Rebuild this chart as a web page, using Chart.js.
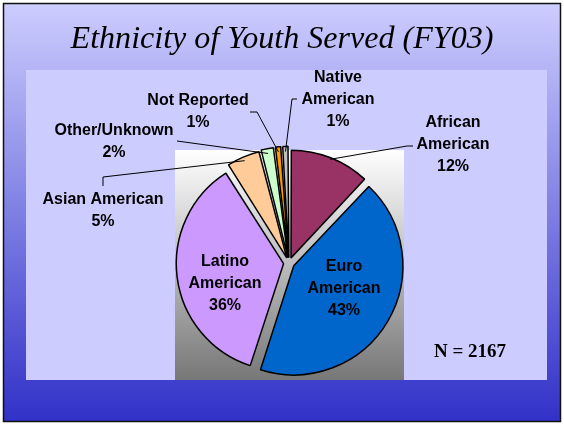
<!DOCTYPE html>
<html>
<head>
<meta charset="utf-8">
<script src="https://cdn.jsdelivr.net/npm/chart.js@4"></script>
<style>
  html, body { margin: 0; padding: 0; background: #fff; }
  #wrap { position: relative; width: 564px; height: 424px; }
</style>
</head>
<body>
<div id="wrap"><canvas id="ethnicityChart" width="564" height="424"></canvas></div>
<script>
const categories = ['African American', 'Euro American', 'Latino American', 'Asian American', 'Other/Unknown', 'Not Reported', 'Native American'];
const percents = [12, 43, 36, 5, 2, 1, 1];
const sliceColors = ['#993366', '#0066CC', '#CC99FF', '#FFCC99', '#CCFFCC', '#FF9900', '#C0C0C0'];
const totalServed = 2167;
const chartTitle = 'Ethnicity of Youth Served (FY03)';

// where each label's text goes, and the elbow of its leader line
const labelLayout = [
  { x: 453, y: 123, wrap: true,  leader: [[413, 146], [407, 146]] },
  { x: 344, y: 267, wrap: true },
  { x: 225, y: 262, wrap: true },
  { x: 103, y: 200, wrap: false, leader: [[103, 186], [103, 177]] },
  { x: 114, y: 131, wrap: false, leader: [[177, 141]] },
  { x: 198, y: 101, wrap: false, leader: [[250, 112], [257, 112]] },
  { x: 338, y: 78,  wrap: true,  leader: [[297, 99], [292, 99]] }
];

const slidePlugin = {
  id: 'slide',
  beforeDraw(chart) {
    const ctx = chart.ctx;
    ctx.save();
    // slide background
    var g = ctx.createLinearGradient(0, 0, 0, 424);
    g.addColorStop(0, '#CECEFF');
    g.addColorStop(1, '#3030C8');
    ctx.fillStyle = g;
    ctx.fillRect(3, 3, 558, 419);
    ctx.strokeStyle = '#111';
    ctx.lineWidth = 1.5;
    ctx.strokeRect(3.5, 3.5, 557, 418);

    // title
    ctx.fillStyle = '#000';
    var size = 30;
    ctx.font = 'italic ' + size + 'px "Liberation Serif"';
    size = size * 423 / ctx.measureText(chartTitle).width;
    ctx.font = 'italic ' + size.toFixed(1) + 'px "Liberation Serif"';
    ctx.textAlign = 'center';
    ctx.textBaseline = 'middle';
    ctx.fillText(chartTitle, 282, 40);

    // chart area + plot area
    ctx.fillStyle = '#CCCCFF';
    ctx.fillRect(26, 70, 521, 310);
    var pg = ctx.createLinearGradient(0, 150, 0, 380);
    pg.addColorStop(0, '#FFFFFF');
    pg.addColorStop(1, '#777777');
    ctx.fillStyle = pg;
    ctx.fillRect(175, 150, 229, 230);
    ctx.restore();
  },
  afterDatasetsDraw(chart) {
    const ctx = chart.ctx;
    const arcs = chart.getDatasetMeta(0).data;
    ctx.save();
    ctx.font = 'bold 16px "Liberation Sans"';
    ctx.textAlign = 'center';
    ctx.textBaseline = 'middle';
    arcs.forEach(function(arc, i) {
      var p = arc.getProps(['x', 'y', 'startAngle', 'endAngle', 'outerRadius'], true);
      var mid = (p.startAngle + p.endAngle) / 2;
      var shift = (arc.options.offset || 0) / 4;
      var ax = p.x + Math.cos(mid) * (shift + p.outerRadius);
      var ay = p.y + Math.sin(mid) * (shift + p.outerRadius);
      var lay = labelLayout[i];
      if (lay.leader) {
        ctx.strokeStyle = '#000';
        ctx.lineWidth = 1;
        ctx.beginPath();
        ctx.moveTo(lay.leader[0][0], lay.leader[0][1]);
        for (var k = 1; k < lay.leader.length; k++) ctx.lineTo(lay.leader[k][0], lay.leader[k][1]);
        ctx.lineTo(ax, ay);
        ctx.stroke();
      }
      var lines = lay.wrap ? categories[i].split(' ') : [categories[i]];
      lines.push(percents[i] + '%');
      ctx.fillStyle = '#000';
      lines.forEach(function(t, j) {
        ctx.fillText(t, lay.x, lay.y + j * 22);
      });
    });

    ctx.font = 'bold 19px "Liberation Serif"';
    ctx.fillText('N = ' + totalServed, 470, 352);
    ctx.restore();
  }
};

new Chart('ethnicityChart', {
  type: 'pie',
  data: {
    labels: categories,
    datasets: [{
      data: percents,
      backgroundColor: sliceColors,
      borderColor: '#000',
      borderWidth: 1.5,
      offset: 22
    }]
  },
  options: {
    responsive: false,
    animation: false,
    radius: 106,
    layout: { padding: { left: 175, right: 161, top: 151, bottom: 49 } },
    plugins: {
      legend: { display: false },
      tooltip: { enabled: false }
    }
  },
  plugins: [slidePlugin]
});
</script>
</body>
</html>
